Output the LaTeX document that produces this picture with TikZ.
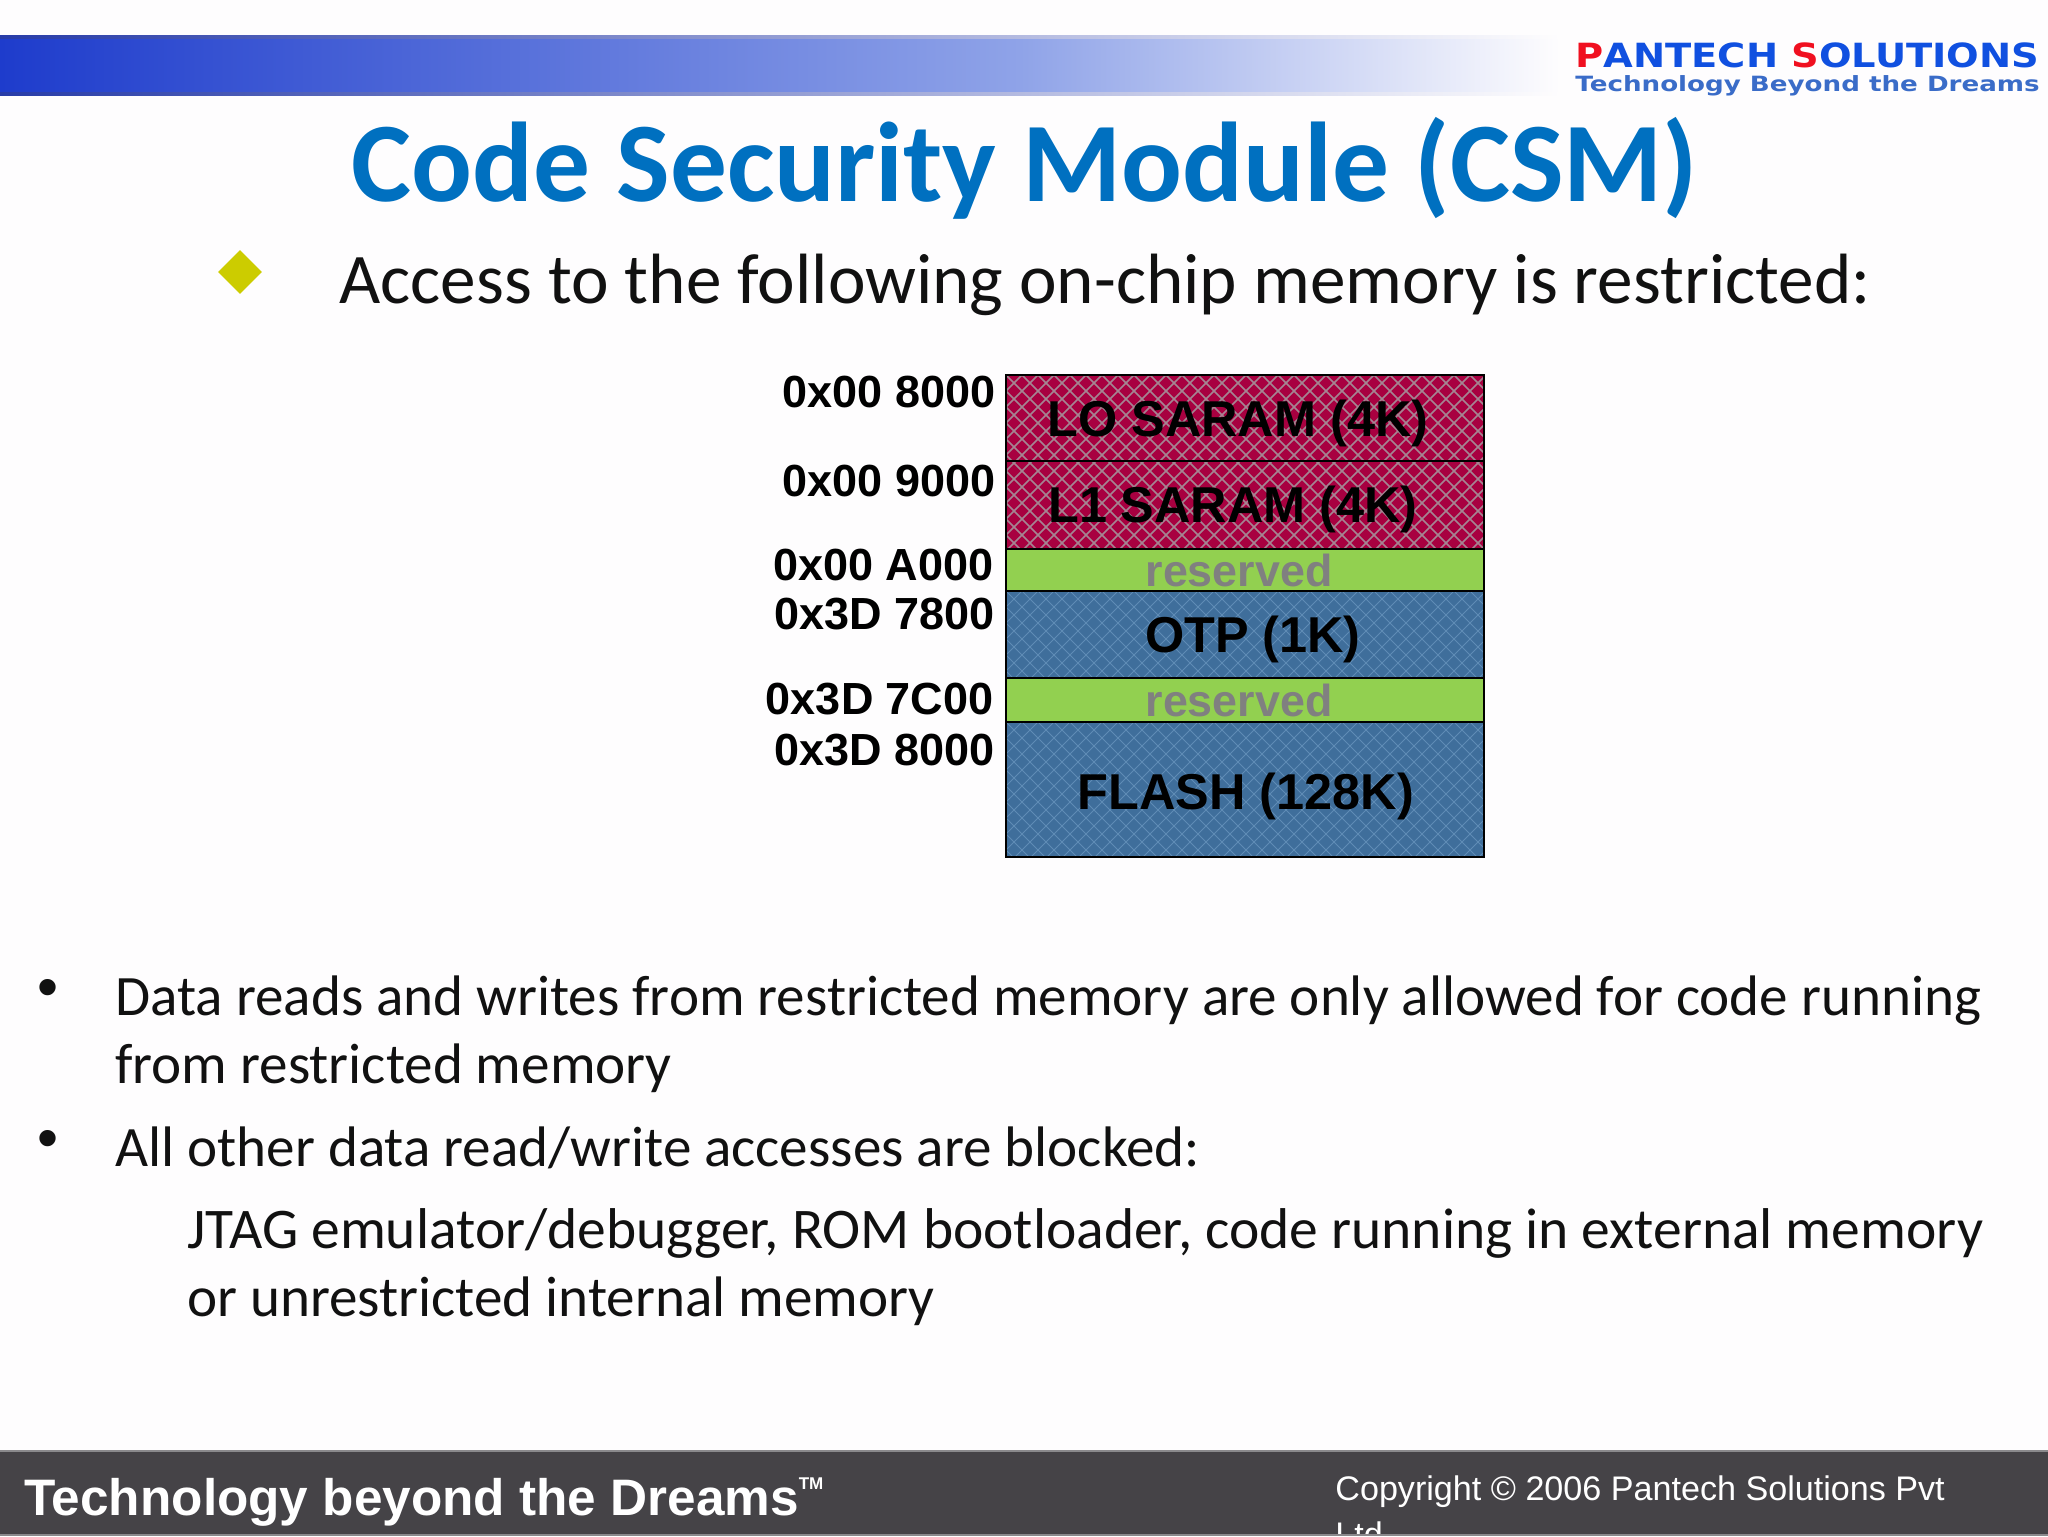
\documentclass[tikz,border=0pt]{standalone}
\usepackage{fontspec}
\usepackage{graphicx}
\setmainfont{Carlito}
\newfontfamily\arialf{Liberation Sans}
\newfontfamily\logof{DejaVu Sans}
\usetikzlibrary{shapes.geometric}
\definecolor{pagebg}{HTML}{FEFDFE}
\definecolor{titleblue}{HTML}{0070C0}
\definecolor{bodyink}{HTML}{111111}
\definecolor{barblue}{HTML}{1E3CCC}
\definecolor{barmid}{HTML}{8FA3E8}
\definecolor{bardark}{HTML}{283CA8}
\definecolor{diamondyl}{HTML}{CCCC00}
\definecolor{memred}{HTML}{A80040}
\definecolor{memredln}{HTML}{A58592}
\definecolor{memblue}{HTML}{3F6E9B}
\definecolor{membluln}{HTML}{5F8CB5}
\definecolor{memgreen}{HTML}{92D050}
\definecolor{resgray}{HTML}{808080}
\definecolor{footbg}{HTML}{454347}
\definecolor{footln}{HTML}{8A898C}
\definecolor{logored}{HTML}{F01020}
\definecolor{logoblue}{HTML}{1050E0}
\definecolor{logoblue2}{HTML}{3A6CC8}
\newcommand{\lattice}[6]{%
  \begin{scope}
    \clip (#1,#2) rectangle (#3,#4);
    \foreach \k in {-60,...,60} {
      \draw[#5,line width=#6] ({#1+\k*16},#2) -- ++({#4-#2},{#4-#2});
      \draw[#5,line width=#6] ({#1+\k*16},#2) -- ++({-(#4-#2)},{#4-#2});
    }
  \end{scope}}
\tikzset{
  body/.style={anchor=base west,inner sep=0pt,font=\fontsize{28.56}{28.56}\selectfont,text=bodyink},
  bulletdot/.style={anchor=center,inner sep=0pt,font=\arialf\fontsize{30}{30}\selectfont,text=bodyink},
  addr/.style={anchor=base east,inner sep=0pt,font=\arialf\bfseries\fontsize{22.5}{22.5}\selectfont,text=black},
  memlabel/.style={anchor=base,inner sep=0pt,font=\arialf\bfseries\fontsize{25.2}{25.2}\selectfont,text=black},
  reslabel/.style={anchor=base,inner sep=0pt,font=\arialf\bfseries\fontsize{22.4}{22.4}\selectfont,text=resgray},
  membox/.style={draw=black,line width=1.35pt},
}
\begin{document}
\begin{tikzpicture}[x=0.5pt,y=-0.5pt]
\useasboundingbox (0,0) rectangle (2048,1536);
\fill[pagebg] (0,0) rectangle (2048,1536);
% top band
\shade[left color=barblue,right color=barmid] (0,37) rectangle (1020,95);
\shade[left color=barmid,right color=pagebg] (1020,37) rectangle (1560,95);
\shade[left color=bardark,right color=pagebg] (0,36) rectangle (1560,39);
\shade[left color=bardark,right color=pagebg] (0,93) rectangle (1560,96);
% logo
\node[inner sep=0pt,anchor=base west] (logo1) at (1575,68) {\scalebox{1.13}[0.98]{\logof\bfseries\fontsize{17}{17}\selectfont\textcolor{logored}{P}\textcolor{logoblue}{ANTECH} \textcolor{logored}{S}\textcolor{logoblue}{OLUTIONS}}};
\node[inner sep=0pt,anchor=base west] (logo2) at (1575,91) {\scalebox{1.245}[1]{\logof\bfseries\fontsize{10.5}{10.5}\selectfont\textcolor{logoblue2}{Technology Beyond the Dreams}}};
% title
\node[anchor=base,inner sep=0pt,text=titleblue,font=\bfseries\fontsize{56.7}{56.7}\selectfont] (title) at (1025,201) {Code Security Module (CSM)};
\node[diamond,fill=diamondyl,minimum width=22pt,minimum height=22pt,inner sep=0pt] (dia) at (240,272) {};
\node[body,font=\fontsize{35.6}{35.6}\selectfont] (access) at (339,303.5) {Access to the following on-chip memory is restricted:};
% memory map
\fill[memred] (1006,375) rectangle (1484,549);
\lattice{1006}{375}{1484}{549}{memredln}{0.8pt}
\fill[memblue] (1006,591) rectangle (1484,678);
\lattice{1006}{591}{1484}{678}{membluln}{0.45pt}
\fill[memblue] (1006,722) rectangle (1484,857);
\lattice{1006}{722}{1484}{857}{membluln}{0.45pt}
\fill[memgreen] (1006,549) rectangle (1484,591);
\fill[memgreen] (1006,678) rectangle (1484,722);
\draw[membox] (1006,375) rectangle (1484,461);
\draw[membox] (1006,461) rectangle (1484,549);
\draw[membox] (1006,549) rectangle (1484,591);
\draw[membox] (1006,591) rectangle (1484,678);
\draw[membox] (1006,678) rectangle (1484,722);
\draw[membox] (1006,722) rectangle (1484,857);
\node[memlabel] (lo) at (1238,436) {LO SARAM (4K)};
\node[memlabel] (l1) at (1233,522) {L1 SARAM (4K)};
\node[reslabel] (r1) at (1239,586) {reserved};
\node[memlabel] (otp) at (1253,652) {OTP (1K)};
\node[reslabel] (r2) at (1239,716) {reserved};
\node[memlabel] (flash) at (1246,809) {FLASH (128K)};
\node[addr] (a1) at (996,407) {0x00 8000};
\node[addr] (a2) at (996,496) {0x00 9000};
\node[addr] (a3) at (994,580) {0x00 A000};
\node[addr] (a4) at (995,629) {0x3D 7800};
\node[addr] (a5) at (994,714) {0x3D 7C00};
\node[addr] (a6) at (995,765) {0x3D 8000};
% bullets
\node[bulletdot] (b1) at (48,993) {•};
\node[body] (t1) at (115,1015.5) {Data reads and writes from restricted memory are only allowed for code running};
\node[body] (t2) at (115,1083.5) {from restricted memory};
\node[bulletdot] (b2) at (48,1144) {•};
\node[body] (t3) at (115,1166.5) {All other data read/write accesses are blocked:};
\node[body,font=\fontsize{28.75}{28.75}\selectfont] (t4) at (187,1248.5) {JTAG emulator/debugger, ROM bootloader, code running in external memory};
\node[body] (t5) at (187,1316.5) {or unrestricted internal memory};
% footer
\fill[footbg] (0,1450) rectangle (2048,1536);
\draw[footln,line width=1pt] (0,1451) -- (2048,1451);
\node[anchor=base west,inner sep=0pt,text=white,font=\arialf\bfseries\fontsize{25.65}{25.65}\selectfont] (ft) at (24,1515) {Technology beyond the Dreams\raisebox{0.5em}{\fontsize{8.5}{8.5}\selectfont TM}};
\node[anchor=base west,inner sep=0pt,text=white,font=\arialf\fontsize{17.06}{17.06}\selectfont] (cp) at (1335,1500) {Copyright © 2006 Pantech Solutions Pvt};
\begin{scope}
\clip (1300,1450) rectangle (2048,1534);
\node[anchor=base west,inner sep=0pt,text=white,font=\arialf\fontsize{17.06}{17.06}\selectfont] (ltd) at (1335,1546) {Ltd};
\end{scope}
\draw[footln,line width=0.8pt] (0,1535) -- (2048,1535);
\end{tikzpicture}
\end{document}
